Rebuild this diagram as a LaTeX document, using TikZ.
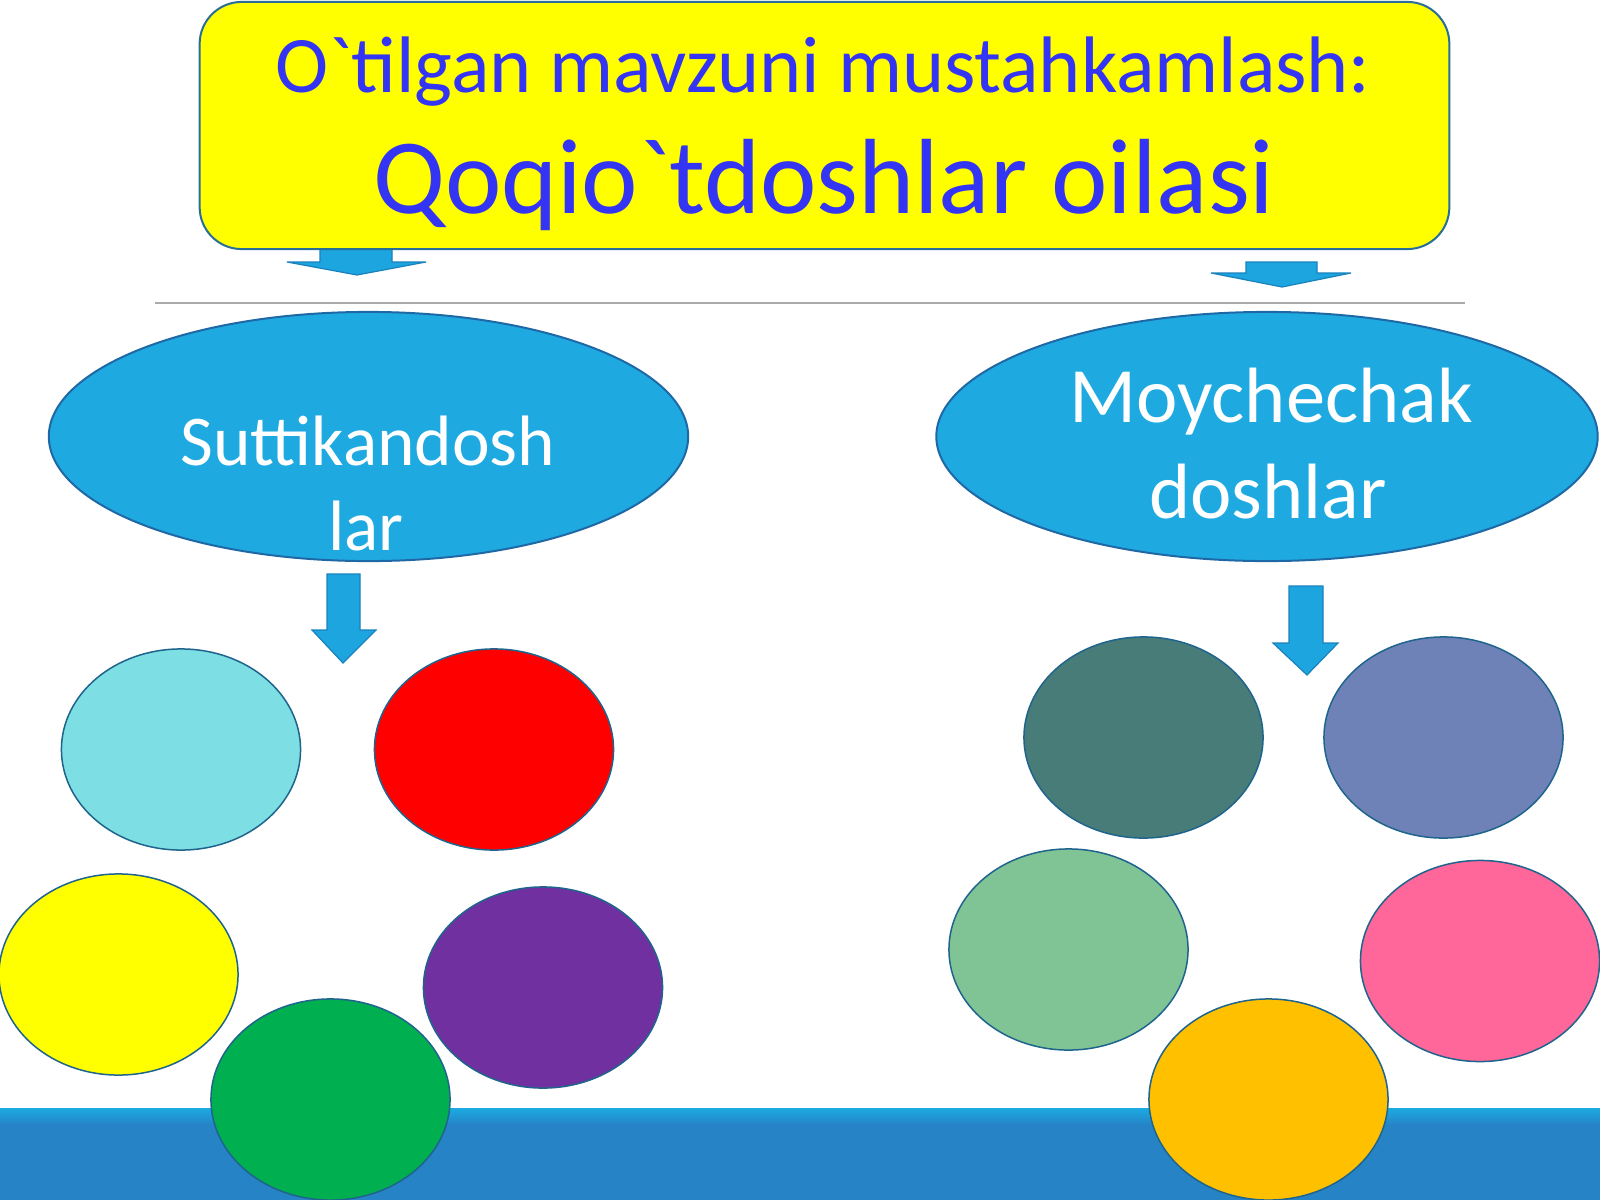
\documentclass[tikz,border=0pt]{standalone}
\usepackage{fontspec}
\setmainfont{Carlito}[Ligatures=TeXOff]
\usetikzlibrary{shapes.geometric}
\definecolor{titleblue}{RGB}{52,52,245}
\definecolor{boxborder}{RGB}{40,110,150}
\definecolor{famfill}{RGB}{30,170,225}
\definecolor{famborder}{RGB}{30,105,165}
\definecolor{arrowfill}{RGB}{28,165,222}
\definecolor{arrowborder}{RGB}{25,130,190}
\definecolor{ellborder}{RGB}{31,100,140}
\definecolor{bandblue}{RGB}{38,131,198}
\definecolor{bandlight}{RGB}{27,171,226}
\definecolor{linegray}{RGB}{170,170,170}
\definecolor{ccyan}{RGB}{125,222,228}
\definecolor{cred}{RGB}{255,0,0}
\definecolor{cyellow}{RGB}{255,255,0}
\definecolor{cpurple}{RGB}{112,48,160}
\definecolor{cgreen}{RGB}{0,176,80}
\definecolor{cteal}{RGB}{72,124,120}
\definecolor{cslate}{RGB}{111,130,184}
\definecolor{clightgreen}{RGB}{128,196,150}
\definecolor{cpink}{RGB}{255,102,153}
\definecolor{corange}{RGB}{255,192,0}
\tikzset{
  titlebox/.style={draw=boxborder, line width=0.02cm, fill=cyellow, rounded corners=0.42cm,
    minimum width=12.49cm, minimum height=2.47cm, inner sep=0pt},
  familyell/.style={ellipse, draw=famborder, line width=0.02cm, fill=famfill, inner sep=0pt},
  smallell/.style={ellipse, draw=ellborder, line width=0.015cm, inner sep=0pt,
    minimum width=2.39cm, minimum height=2.01cm},
  blockarrow/.style={fill=arrowfill, draw=arrowborder, line width=0.012cm, line join=miter},
  famtext/.style={anchor=base, text=white, inner sep=0pt},
  titletext/.style={anchor=base, text=titleblue, inner sep=0pt}
}
\begin{document}
\begin{tikzpicture}[x=0.01cm,y=-0.01cm]
\useasboundingbox (0,0) rectangle (1600,1200);
\fill[white] (0,0) rectangle (1600,1200);

% bottom band
\fill[bandblue] (0,1108) rectangle (1600,1200);
\shade[top color=bandlight, bottom color=bandblue] (0,1108) rectangle (1600,1125);

% top arrows
\draw[blockarrow] (320,247) -- (392,247) -- (392,262) -- (426,262) -- (357,275) -- (287,262) -- (320,262) -- cycle;
\draw[blockarrow] (1246,262) -- (1317,262) -- (1317,273) -- (1351,273) -- (1282,287) -- (1211,273) -- (1246,273) -- cycle;

% title box
\node (title) [titlebox] at (824.5,125.5) {};
\node (title1) [titletext] at (823,92) {\fontsize{22.8pt}{27pt}\selectfont O`tilgan mavzuni mustahkamlash:};
\node (title2) [titletext] at (824,213) {\fontsize{30.4pt}{36pt}\selectfont Qoqio`tdoshlar oilasi};

% separator line
\draw[linegray, line width=0.02cm] (155,303) -- (1465,303);

% family ellipses
\node (famL) [familyell, minimum width=6.39cm, minimum height=2.49cm] at (368.5,436.5) {};
\node (famR) [familyell, minimum width=6.61cm, minimum height=2.49cm] at (1267,436.5) {};
\node (famL1) [famtext] at (368,465) {\fontsize{20.3pt}{24pt}\selectfont Suttikandosh};
\node (famL2) [famtext] at (366,550) {\fontsize{20.3pt}{24pt}\selectfont lar};
\node (famR1) [famtext] at (1271,422) {\fontsize{22.3pt}{26pt}\selectfont Moychechak};
\node (famR2) [famtext] at (1268,518) {\fontsize{22.3pt}{26pt}\selectfont doshlar};

% down arrows
\draw[blockarrow] (327,574) -- (360,574) -- (360,630) -- (376,630) -- (343,663) -- (312,630) -- (327,630) -- cycle;
\draw[blockarrow] (1289,586) -- (1323,586) -- (1323,643) -- (1338,643) -- (1307,675) -- (1273,643) -- (1289,643) -- cycle;

% left group
\node (l1) [smallell, fill=ccyan] at (181,749.5) {};
\node (l2) [smallell, fill=cred] at (494,749.5) {};
\node (l3) [smallell, fill=cyellow] at (118.5,974.5) {};
\node (l4) [smallell, fill=cpurple] at (543,987.5) {};
\node (l5) [smallell, fill=cgreen] at (330.5,1099.5) {};

% right group
\node (r1) [smallell, fill=cteal] at (1143.5,737.5) {};
\node (r2) [smallell, fill=cslate] at (1443.5,737.5) {};
\node (r3) [smallell, fill=clightgreen] at (1068.5,949.5) {};
\node (r4) [smallell, fill=cpink] at (1480,961) {};
\node (r5) [smallell, fill=corange] at (1268.5,1099.5) {};
\end{tikzpicture}
\end{document}
